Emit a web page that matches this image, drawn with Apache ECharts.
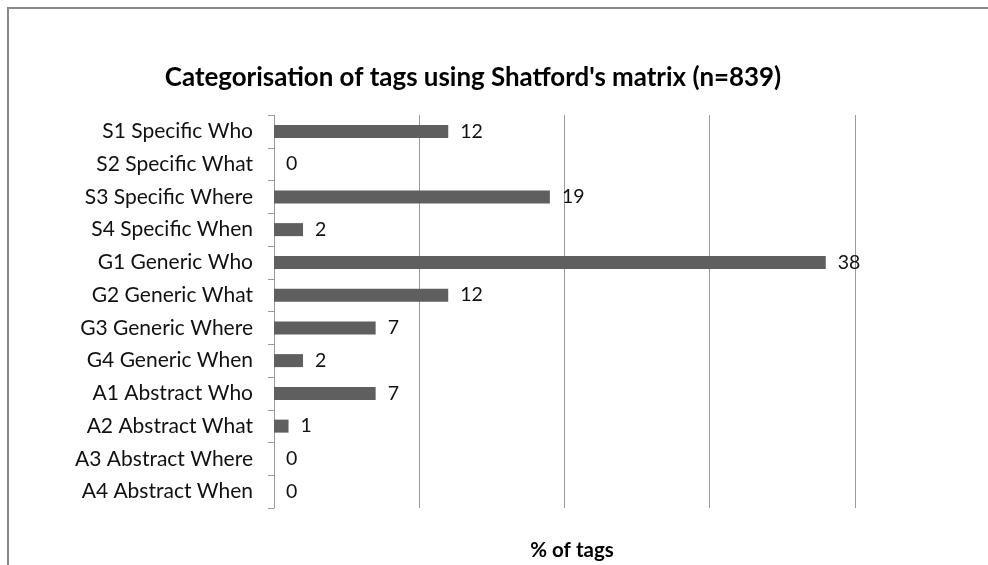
<!DOCTYPE html>
<html>
<head>
<meta charset="utf-8">
<script src="https://cdn.jsdelivr.net/npm/echarts@6/dist/echarts.min.js"></script>
<style>
  html, body { margin: 0; padding: 0; background: #fff; }
  #chart { width: 988px; height: 565px; }
</style>
</head>
<body>
<div id="chart"></div>
<script>
// Shatford matrix categories, top to bottom
const categories = [
  'S1 Specific Who', 'S2 Specific What', 'S3 Specific Where', 'S4 Specific When',
  'G1 Generic Who', 'G2 Generic What', 'G3 Generic Where', 'G4 Generic When',
  'A1 Abstract Who', 'A2 Abstract What', 'A3 Abstract Where', 'A4 Abstract When'
];
// Percentage of tags in each category
const percentValues = [12, 0, 19, 2, 38, 12, 7, 2, 7, 1, 0, 0];

const chartTitle = "Categorisation of tags using Shatford's matrix (n=839)";
const axisTitle = '% of tags';

const FONT = 'Lato, "Noto Sans", sans-serif';

const chart = echarts.init(document.getElementById('chart'));
chart.setOption({
  animation: false,
  backgroundColor: '#ffffff',
  title: [
    {
      text: chartTitle,
      left: 468,
      top: 60,
      textAlign: 'center',
      textStyle: { fontFamily: FONT, fontSize: 25.9, fontWeight: 'bold', color: '#000' }
    },
    {
      text: axisTitle,
      left: 567,
      top: 535,
      textAlign: 'center',
      textStyle: { fontFamily: FONT, fontSize: 20.5, fontWeight: 'bold', color: '#000' }
    }
  ],
  // the plot area runs past the right edge of the canvas (last gridline at 50 is off-screen)
  grid: { left: 274, top: 115, width: 726, height: 393, containLabel: false, outerBoundsMode: 'none' },
  xAxis: {
    type: 'value',
    min: 0,
    max: 50,
    interval: 10,
    axisLine: { show: false },
    axisTick: { show: false },
    axisLabel: { show: false },
    splitLine: { show: true, lineStyle: { color: '#9a9a9a', width: 1 } }
  },
  yAxis: {
    type: 'category',
    data: categories,
    inverse: true,
    axisLine: { show: true, lineStyle: { color: '#9a9a9a', width: 1 } },
    axisTick: { show: true, length: 6, lineStyle: { color: '#9a9a9a' } },
    axisLabel: { margin: 21, fontFamily: FONT, fontSize: 21, color: '#111' },
    splitLine: { show: false }
  },
  series: [{
    type: 'bar',
    data: percentValues,
    barWidth: 13,
    itemStyle: { color: '#5f5f5f' },
    label: {
      show: true,
      position: 'right',
      distance: 12,
      fontFamily: FONT,
      fontSize: 19.5,
      color: '#111'
    }
  }],
  graphic: [{
    type: 'polyline',
    shape: { points: [[8, 565], [8, 8], [988, 8]] },
    style: { stroke: '#8a8a8a', lineWidth: 2, fill: null },
    silent: true
  }]
});
</script>
</body>
</html>
